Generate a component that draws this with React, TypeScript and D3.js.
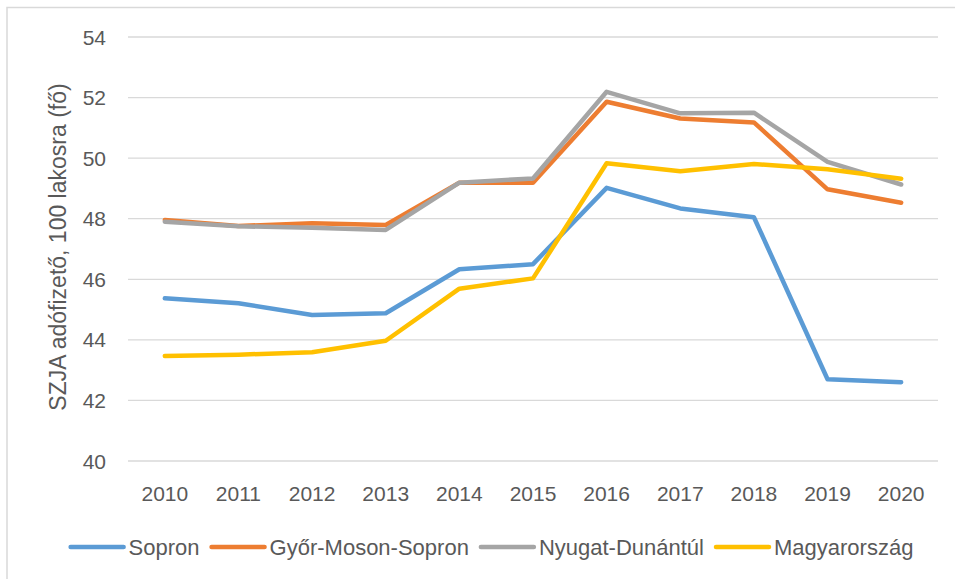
import React, { useEffect, useRef } from 'react';
import * as d3 from 'd3';

const years = ['2010', '2011', '2012', '2013', '2014', '2015', '2016', '2017', '2018', '2019', '2020'];
const seriesNames = ['Sopron', 'Győr-Moson-Sopron', 'Nyugat-Dunántúl', 'Magyarország'];
const seriesColors = ['#5B9BD5', '#ED7D31', '#A5A5A5', '#FFC000'];

const sopron = [45.37, 45.21, 44.82, 44.88, 46.33, 46.5, 49.02, 48.34, 48.05, 42.7, 42.6];
const gyorMosonSopron = [47.96, 47.76, 47.85, 47.79, 49.19, 49.19, 51.86, 51.31, 51.18, 48.97, 48.53];
const nyugatDunantul = [47.9, 47.75, 47.7, 47.63, 49.19, 49.33, 52.19, 51.48, 51.5, 49.88, 49.13];
const magyarorszag = [43.47, 43.51, 43.59, 43.97, 45.69, 46.03, 49.83, 49.57, 49.81, 49.63, 49.32];

const yTicks = [40, 42, 44, 46, 48, 50, 52, 54];
const yTitle = 'SZJA adófizető, 100 lakosra (fő)';

const allSeries = [sopron, gyorMosonSopron, nyugatDunantul, magyarorszag];

const App = () => {
  const svgRef = useRef<SVGSVGElement>(null);
  const width = 955, height = 579;
  const plot = { left: 128, right: 938, top: 37, bottom: 461 };
  const font = '"Liberation Sans", Arial, sans-serif';
  const textColor = '#595959';

  useEffect(() => {
    const svg = d3.select(svgRef.current);
    svg.selectAll('*').remove();

    // chart border (runs past the right/bottom edge like the screenshot)
    svg.append('rect')
      .attr('x', 7)
      .attr('y', 7.5)
      .attr('width', width + 20)
      .attr('height', height + 20)
      .attr('fill', '#fff')
      .attr('stroke', '#d9d9d9')
      .attr('stroke-width', 1.5);

    const x = d3.scaleBand()
      .domain(years)
      .range([plot.left, plot.right]);

    const y = d3.scaleLinear()
      .domain([40, 54])
      .range([plot.bottom, plot.top]);

    // gridlines
    svg.append('g')
      .selectAll('line')
      .data(yTicks)
      .enter()
      .append('line')
      .attr('x1', plot.left)
      .attr('x2', plot.right)
      .attr('y1', d => y(d))
      .attr('y2', d => y(d))
      .attr('stroke', '#d9d9d9')
      .attr('stroke-width', 1.3);

    // y tick labels
    svg.append('g')
      .selectAll('text')
      .data(yTicks)
      .enter()
      .append('text')
      .attr('x', 106)
      .attr('y', d => y(d))
      .attr('dy', '0.36em')
      .attr('text-anchor', 'end')
      .attr('font-family', font)
      .attr('font-size', 21)
      .attr('fill', textColor)
      .text(d => d);

    // x tick labels
    svg.append('g')
      .selectAll('text')
      .data(years)
      .enter()
      .append('text')
      .attr('x', d => (x(d) as number) + x.bandwidth() / 2)
      .attr('y', 493)
      .attr('dy', '0.36em')
      .attr('text-anchor', 'middle')
      .attr('font-family', font)
      .attr('font-size', 21)
      .attr('fill', textColor)
      .text(d => d);

    // y axis title
    svg.append('text')
      .attr('transform', `translate(58,247) rotate(-90)`)
      .attr('dy', '0.36em')
      .attr('text-anchor', 'middle')
      .attr('font-family', font)
      .attr('font-size', 23)
      .attr('fill', textColor)
      .text(yTitle);

    // lines
    const line = d3.line<number>()
      .x((_, i) => (x(years[i]) as number) + x.bandwidth() / 2)
      .y(d => y(d));

    allSeries.forEach((values, i) => {
      svg.append('path')
        .datum(values)
        .attr('d', line)
        .attr('fill', 'none')
        .attr('stroke', seriesColors[i])
        .attr('stroke-width', 4.5)
        .attr('stroke-linejoin', 'round')
        .attr('stroke-linecap', 'round');
    });

    // legend, measured then centered
    const legend = svg.append('g');
    const swatch = 53, gapAfterSwatch = 5, gapBetween = 12;
    const items = seriesNames.map((name, i) => {
      const g = legend.append('g');
      g.append('line')
        .attr('x1', 0)
        .attr('x2', swatch)
        .attr('y1', 0)
        .attr('y2', 0)
        .attr('stroke', seriesColors[i])
        .attr('stroke-width', 4.5)
        .attr('stroke-linecap', 'round');
      const t = g.append('text')
        .attr('x', swatch + gapAfterSwatch)
        .attr('dy', '0.36em')
        .attr('font-family', font)
        .attr('font-size', 22)
        .attr('fill', textColor)
        .text(name);
      const w = (t.node() as SVGTextElement).getComputedTextLength();
      return { g, w: swatch + gapAfterSwatch + w };
    });
    const total = d3.sum(items, d => d.w) + gapBetween * (items.length - 1);
    let cx = 492 - total / 2;
    items.forEach(it => {
      it.g.attr('transform', `translate(${cx},547)`);
      cx += it.w + gapBetween;
    });
  }, []);

  return (
    <svg
      ref={svgRef}
      width={width}
      height={height}
      style={{ position: 'absolute', left: 0, top: 0, display: 'block' }}
    ></svg>
  );
};

export default App;
